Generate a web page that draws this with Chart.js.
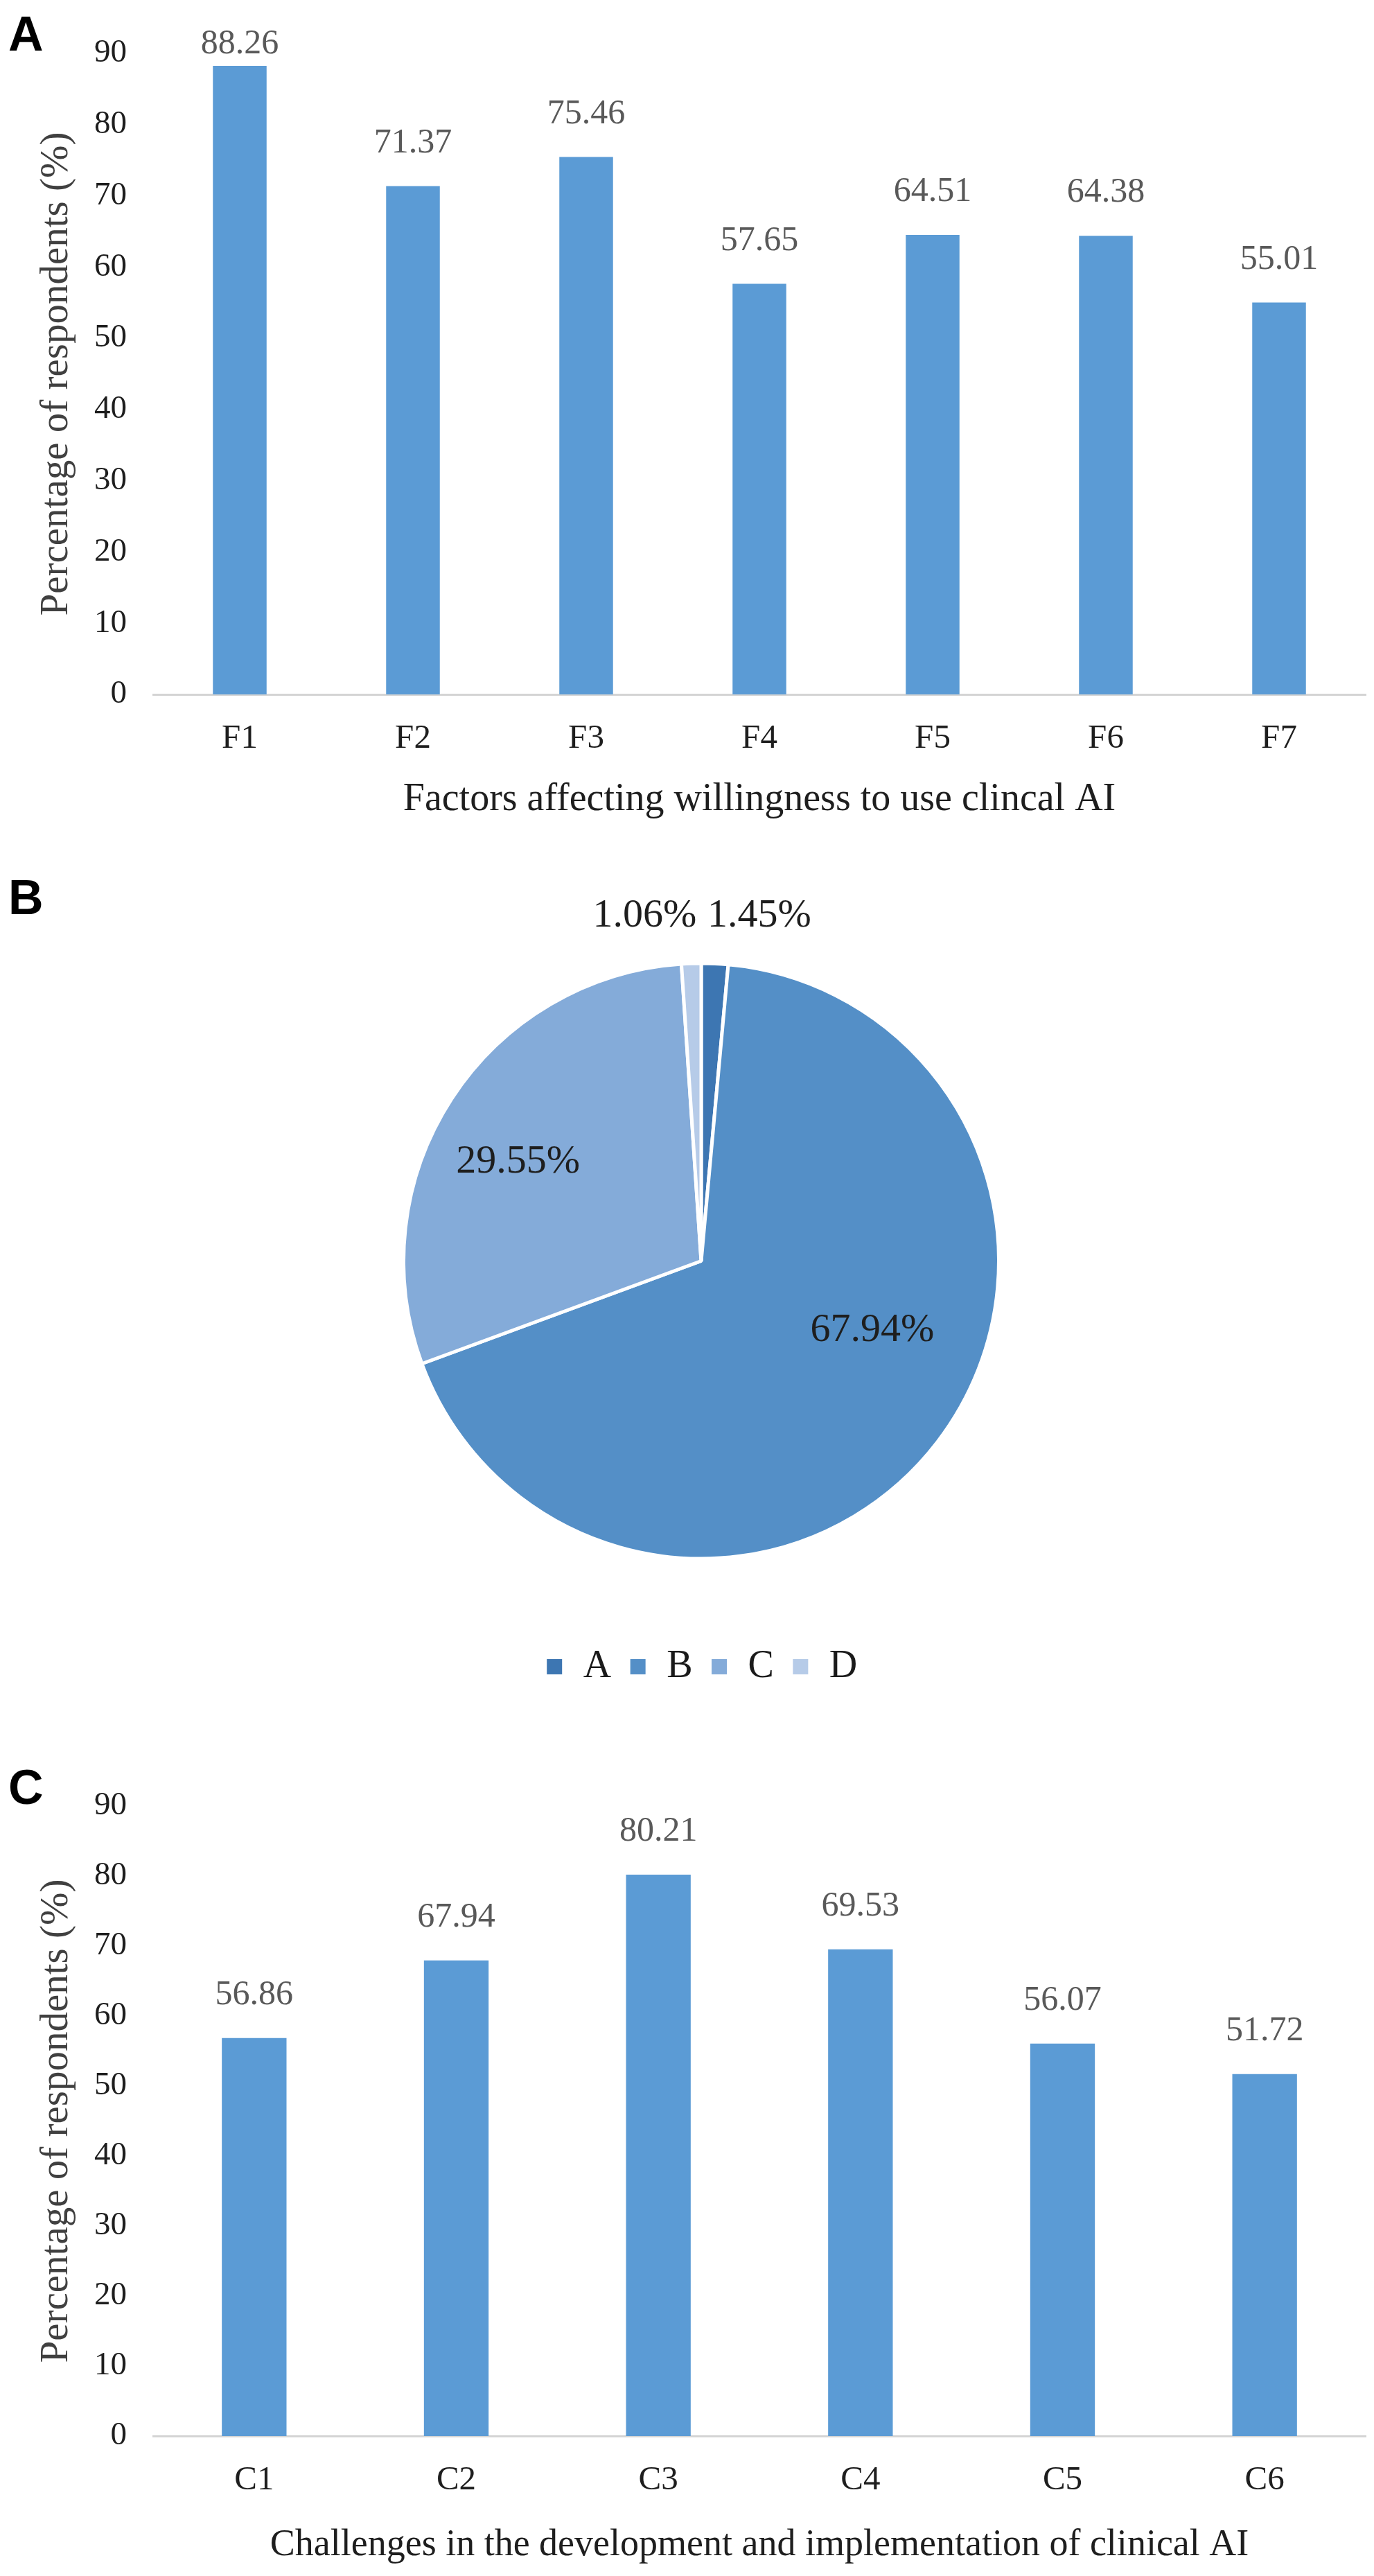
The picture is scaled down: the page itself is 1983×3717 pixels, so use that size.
<!DOCTYPE html>
<html>
<head>
<meta charset="utf-8">
<script src="https://cdn.jsdelivr.net/npm/chart.js@4.4.1/dist/chart.umd.min.js"></script>
<style>
  html, body { margin: 0; padding: 0; background: #fff; }
  #page { position: relative; width: 1983px; height: 3717px; background: #fff; }
  .panel { position: absolute; left: 0; width: 1983px; }
  .tag { position: absolute; left: 12px; font: bold 70px "Liberation Sans", Arial, sans-serif; line-height: 70px; color: #000; }
</style>
</head>
<body>
<div id="page">
  <div class="tag" style="top:14px">A</div>
  <div class="tag" style="top:1260px">B</div>
  <div class="tag" style="top:2544px">C</div>

  <div class="panel" style="top:0; height:1230px"><canvas id="factorsChart"></canvas></div>
  <div class="panel" style="top:1240px; height:1203px"><canvas id="pieChart"></canvas></div>
  <div class="panel" style="top:2470px; height:1247px"><canvas id="challengesChart"></canvas></div>
</div>

<script>
// panel A
const factorLabels = ["F1", "F2", "F3", "F4", "F5", "F6", "F7"];
const factorValues = [88.26, 71.37, 75.46, 57.65, 64.51, 64.38, 55.01];

// panel B
const pieLabels = ["A", "B", "C", "D"];
const pieValues = [1.45, 67.94, 29.55, 1.06];
const pieColors = ["#3d76b2", "#548fc7", "#84abd9", "#b6cbe8"];

// panel C
const challengeLabels = ["C1", "C2", "C3", "C4", "C5", "C6"];
const challengeValues = [56.86, 67.94, 80.21, 69.53, 56.07, 51.72];

const yTicks = { min: 0, max: 90, step: 10 };

const SERIF = "'Liberation Serif', 'Times New Roman', serif";
Chart.defaults.font.family = SERIF;
Chart.defaults.animation = false;

// value labels above the bars
const barValueLabels = {
    id: "barValueLabels",
    afterDatasetsDraw(chart) {
        const ctx = chart.ctx;
        const meta = chart.getDatasetMeta(0);
        ctx.save();
        ctx.font = "50px " + SERIF;
        ctx.fillStyle = "#595959";
        ctx.textAlign = "center";
        ctx.textBaseline = "middle";
        meta.data.forEach((bar, i) => {
            const v = chart.data.datasets[0].data[i];
            let y = bar.y - 62;
            if (y < chart.chartArea.top - 13) y = chart.chartArea.top - 13;
            ctx.fillText(v.toFixed(2), bar.x, y);
        });
        ctx.restore();
    }
};

function createBarChart(canvasId, labels, values, opts) {
    const ctx = document.getElementById(canvasId).getContext("2d");
    return new Chart(ctx, {
        type: "bar",
        data: {
            labels: labels,
            datasets: [{
                data: values,
                backgroundColor: "#5b9bd5",
                categoryPercentage: 1,
                barPercentage: opts.barPct
            }]
        },
        options: {
            responsive: true,
            maintainAspectRatio: false,
            layout: { padding: { top: opts.top, right: 12, bottom: 0, left: 0 } },
            plugins: { legend: { display: false }, tooltip: { enabled: false } },
            scales: {
                x: {
                    grid: { display: false, drawTicks: false },
                    border: { display: true, color: "#d4d4d4", width: 3 },
                    ticks: { color: "#1e1e1e", font: { size: 49 }, padding: 35 },
                    title: {
                        display: true, text: opts.xTitle, color: "#1e1e1e",
                        font: { size: opts.xTitleSize, lineHeight: 1 }, padding: { top: 0, bottom: opts.xTitlePad }
                    },
                    afterFit(scale) { scale.height = opts.xHeight; }
                },
                y: {
                    min: yTicks.min, max: yTicks.max,
                    grid: { display: false, drawTicks: false },
                    border: { display: false },
                    ticks: { stepSize: yTicks.step, color: "#1e1e1e", font: { size: 47 }, padding: 38 },
                    title: {
                        display: true, text: "Percentage of respondents (%)", color: "#404040",
                        font: { size: 57, lineHeight: 1 }, padding: { top: 54, bottom: 0 }
                    },
                    afterFit(scale) { scale.width = 221; }
                }
            }
        },
        plugins: [barValueLabels]
    });
}

// percentage labels on and around the pie
const pieValueLabels = {
    id: "pieValueLabels",
    afterDatasetsDraw(chart) {
        const ctx = chart.ctx;
        const meta = chart.getDatasetMeta(0);
        const radial = [1.16, 0.62, 0.70, 1.16];
        const shift = [0, -0.27, -0.08, 0];
        ctx.save();
        ctx.font = "58px " + SERIF;
        ctx.fillStyle = "#1e1e1e";
        ctx.textBaseline = "middle";
        meta.data.forEach((arc, i) => {
            const mid = (arc.startAngle + arc.endAngle) / 2 + shift[i];
            const r = arc.outerRadius * radial[i];
            let x = arc.x + Math.cos(mid) * r;
            const y = arc.y + Math.sin(mid) * r;
            const text = pieValues[i].toFixed(2) + "%";
            if (radial[i] > 1) {
                // small outside slices: labels sit side by side above the pie
                x = arc.x + Math.cos(mid) * r * 0.4;
                ctx.textAlign = x >= arc.x ? "left" : "right";
            } else {
                ctx.textAlign = "center";
            }
            ctx.fillText(text, x, y);
        });
        ctx.restore();
    }
};

function createPieChart() {
    const ctx = document.getElementById("pieChart").getContext("2d");
    return new Chart(ctx, {
        type: "pie",
        data: {
            labels: pieLabels,
            datasets: [{
                data: pieValues,
                backgroundColor: pieColors,
                borderColor: "#ffffff",
                borderWidth: 5
            }]
        },
        options: {
            responsive: true,
            maintainAspectRatio: false,
            layout: { padding: { top: 47, left: 580, right: 539, bottom: 0 } },
            plugins: {
                tooltip: { enabled: false },
                legend: {
                    position: "bottom",
                    labels: {
                        color: "#1a1a1a",
                        font: { size: 56 },
                        boxWidth: 27, boxHeight: 27,
                        padding: 25
                    }
                }
            }
        },
        plugins: [pieValueLabels]
    });
}

createBarChart("factorsChart", factorLabels, factorValues, {
    barPct: 0.31, top: 77, xHeight: 228, xTitlePad: 48, xTitleSize: 56,
    xTitle: "Factors affecting willingness to use clincal AI"
});
createPieChart();
createBarChart("challengesChart", challengeLabels, challengeValues, {
    barPct: 0.32, top: 136, xHeight: 202, xTitlePad: 17, xTitleSize: 54,
    xTitle: "Challenges in the development and implementation of clinical AI"
});
</script>
</body>
</html>
